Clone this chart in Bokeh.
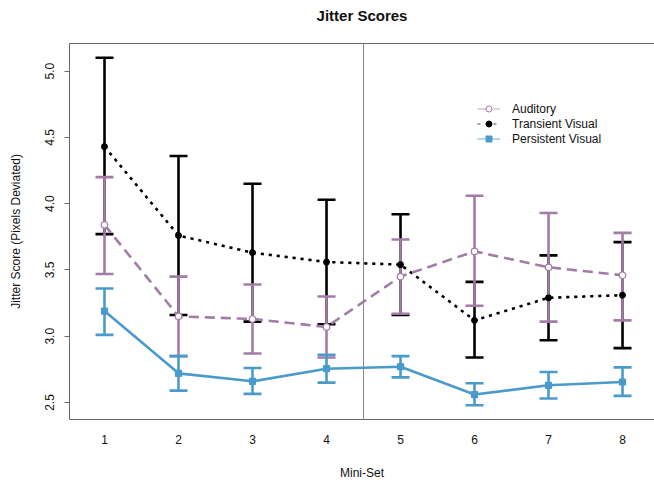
from bokeh.plotting import figure
from bokeh.models import (Range1d, FixedTicker, LinearAxis, Whisker, TeeHead, Span,
                          ColumnDataSource, Legend, LegendItem)
from bokeh.embed import file_html
from bokeh.resources import INLINE

mini_set = [1, 2, 3, 4, 5, 6, 7, 8]
x_tick_labels = ["1", "2", "3", "4", "5", "6", "7", "8"]
y_ticks = [2.5, 3.0, 3.5, 4.0, 4.5, 5.0]
y_tick_labels = ["2.5", "3.0", "3.5", "4.0", "4.5", "5.0"]

auditory_mean = [3.84, 3.15, 3.13, 3.07, 3.45, 3.64, 3.52, 3.46]
auditory_lower = [3.47, 2.85, 2.87, 2.84, 3.17, 3.23, 3.11, 3.12]
auditory_upper = [4.20, 3.45, 3.39, 3.30, 3.73, 4.06, 3.93, 3.78]

transient_mean = [4.43, 3.76, 3.63, 3.56, 3.54, 3.12, 3.29, 3.31]
transient_lower = [3.77, 3.16, 3.11, 3.09, 3.16, 2.84, 2.97, 2.91]
transient_upper = [5.10, 4.36, 4.15, 4.03, 3.92, 3.41, 3.61, 3.71]

persistent_mean = [3.19, 2.72, 2.66, 2.755, 2.77, 2.56, 2.63, 2.655]
persistent_lower = [3.01, 2.59, 2.565, 2.65, 2.69, 2.48, 2.53, 2.55]
persistent_upper = [3.36, 2.85, 2.76, 2.86, 2.85, 2.645, 2.73, 2.765]

series_names = ["Auditory", "Transient Visual", "Persistent Visual"]
chart_title = "Jitter Scores"

divider_x = 4.5

PURPLE = "#A27CA6"
BLUE = "#4A9BCB"
BLACK = "#000000"
GRAY = "#666666"
FONT = "Liberation Sans"

p = figure(width=654, height=482, output_backend="svg", toolbar_location=None,
           x_range=Range1d(0.527, 8.432), y_range=Range1d(2.372, 5.208),
           min_border_left=69, min_border_right=0, min_border_top=43, min_border_bottom=62,
           x_axis_location=None, y_axis_location=None)
p.outline_line_color = None
p.grid.visible = False
p.background_fill_color = "white"

# Axes
yax = LinearAxis(ticker=FixedTicker(ticks=y_ticks),
                 major_label_overrides={t: l for t, l in zip(y_ticks, y_tick_labels)})
yax.axis_label = "Jitter Score (Pixels Deviated)"
yax.axis_label_text_font = FONT
yax.axis_label_text_font_size = "12px"
yax.axis_label_text_font_style = "normal"
yax.axis_label_text_color = "#111111"
yax.axis_label_standoff = 20
yax.major_label_orientation = "vertical"
yax.major_label_text_font = FONT
yax.major_label_text_font_size = "12px"
yax.major_label_text_color = "#111111"
yax.major_label_standoff = 10
yax.major_tick_out = 5
yax.major_tick_in = 0
yax.minor_tick_out = 0
yax.minor_tick_in = 0
yax.axis_line_color = GRAY
yax.major_tick_line_color = GRAY
p.add_layout(yax, "left")

xax = LinearAxis(ticker=FixedTicker(ticks=mini_set),
                 major_label_overrides={t: l for t, l in zip(mini_set, x_tick_labels)})
xax.axis_label = "Mini-Set"
xax.axis_label_text_font = FONT
xax.axis_label_text_font_size = "12px"
xax.axis_label_text_font_style = "normal"
xax.axis_label_text_color = "#111111"
xax.axis_label_standoff = 19
xax.major_label_text_font = FONT
xax.major_label_text_font_size = "12px"
xax.major_label_text_color = "#111111"
xax.major_label_standoff = 15
xax.major_tick_out = 0
xax.major_tick_in = 0
xax.minor_tick_out = 0
xax.minor_tick_in = 0
xax.axis_line_color = GRAY
p.add_layout(xax, "below")

# top border of the box, carrying the chart title as its label
top = LinearAxis(ticker=FixedTicker(ticks=[]), major_label_text_font_size="0px",
                 major_label_standoff=0,
                 major_tick_out=0, major_tick_in=0, minor_tick_out=0, minor_tick_in=0,
                 axis_line_color=GRAY)
top.axis_label = chart_title
top.axis_label_text_font = FONT
top.axis_label_text_font_size = "15px"
top.axis_label_text_font_style = "bold"
top.axis_label_text_color = "#111111"
top.axis_label_standoff = 20
p.add_layout(top, "above")

p.add_layout(Span(location=divider_x, dimension="height", line_color="#888888", line_width=1))

legend_items = {}


def add_series(mean, lower, upper, color, dash, marker, fill, size, name):
    src = ColumnDataSource(dict(x=mini_set, m=mean, lo=lower, hi=upper))
    w = Whisker(source=src, base="x", lower="lo", upper="hi",
                line_color=color, line_width=2.6,
                upper_head=TeeHead(size=18, line_color=color, line_width=2.6),
                lower_head=TeeHead(size=18, line_color=color, line_width=2.6))
    p.add_layout(w)
    # thin copies (hidden beneath the thick marks) used as legend glyphs
    lg_line = p.line("x", "m", source=src, line_color=color, line_width=1.2,
                     line_alpha=0.7, line_dash=dash)
    lg_pt = p.scatter("x", "m", source=src, marker=marker, size=5,
                      fill_color=fill, line_color=color, line_width=1)
    p.line("x", "m", source=src, line_color=color, line_width=2.6, line_dash=dash)
    p.scatter("x", "m", source=src, marker=marker, size=size,
              fill_color=fill, line_color=color, line_width=1.2)
    legend_items[name] = LegendItem(label=name, renderers=[lg_line, lg_pt])


add_series(transient_mean, transient_lower, transient_upper, BLACK, "3 5", "circle", BLACK, 5.5,
           series_names[1])
add_series(auditory_mean, auditory_lower, auditory_upper, PURPLE, "10 6", "circle", "white", 6.5,
           series_names[0])
add_series(persistent_mean, persistent_lower, persistent_upper, BLUE, "solid", "square", BLUE, 6,
           series_names[2])

legend = Legend(items=[legend_items[n] for n in series_names], location=(408, 273),
                border_line_color=None, background_fill_alpha=0, padding=0, margin=0, spacing=0,
                glyph_width=23, glyph_height=15, label_height=15, label_standoff=12,
                label_text_font=FONT, label_text_font_size="12px", label_text_color="#111111")
p.add_layout(legend, "center")

open("out.html", "w").write(file_html(p, INLINE))
